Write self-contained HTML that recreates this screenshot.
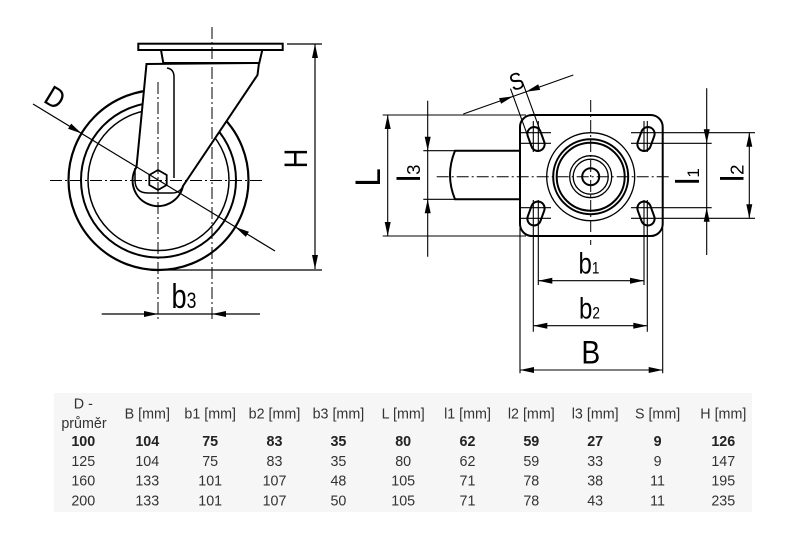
<!DOCTYPE html>
<html><head><meta charset="utf-8"><style>
html,body{margin:0;padding:0;background:#fff;}
svg{display:block;}
.t{font-family:"Liberation Sans",Arial,sans-serif;}
</style></head><body>
<svg width="800" height="550" viewBox="0 0 800 550" xmlns="http://www.w3.org/2000/svg">
<rect width="800" height="550" fill="#fff"/>
<rect x="54" y="393" width="698" height="119" fill="#f6f6f6"/>

<!-- LEFT DRAWING -->
<g fill="none" stroke="#000">
  <circle cx="158.5" cy="180" r="90" stroke-width="2.2"/>
  <circle cx="158.5" cy="180" r="77.5" stroke-width="2"/>
  <circle cx="158.5" cy="180" r="70.5" stroke-width="1.5"/>
  <path d="M146.5,64 L259,63 L257.5,75 L183,186 A25.5,25.5 0 1 1 136.5,167 Z" fill="#fff" stroke-width="2"/>
  <polygon points="161,50 262.3,50 259.3,63 163.3,63" fill="#fff" stroke-width="2"/>
  <rect x="138.3" y="43.7" width="144.4" height="6.3" fill="#fff" stroke-width="2"/>
  <path d="M167,68 Q174,69 174,77 L174,178" stroke-width="1.5"/>
  <path d="M135,168 L135,180 Q135,193 148,193 L172,193 Q180,193 183,186" stroke-width="1.5"/>
  <polygon points="158,170 166.7,175 166.7,185 158,190 149.3,185 149.3,175" stroke-width="1.8"/>
</g>
<g fill="none" stroke="#000" stroke-width="1" stroke-dasharray="12 3 2 3">
  <line x1="158" y1="82" x2="158" y2="320"/>
  <line x1="212" y1="27" x2="212" y2="320"/>
  <line x1="50" y1="180.5" x2="265" y2="180.5"/>
</g>
<g fill="none" stroke="#000" stroke-width="1.2">
  <line x1="33" y1="104" x2="275" y2="251"/>
  <line x1="315" y1="44" x2="315" y2="269"/>
  <line x1="287" y1="44" x2="322" y2="44"/>
  <line x1="158" y1="270" x2="322" y2="270"/>
  <line x1="101.7" y1="314" x2="260" y2="314"/>
</g>
<g fill="#000" stroke="none">
  <polygon points="81.6,133.5 68.08,128.79 71.2,123.67"/>
  <polygon points="235.4,227.1 245.8,236.93 248.92,231.81"/>
  <polygon points="315,44 312,58 318,58"/>
  <polygon points="315,269 312,255 318,255"/>
  <polygon points="158,314 144,311 144,317"/>
  <polygon points="212,314 226,311 226,317"/>
</g>
<g class="t" fill="#000">
  <g transform="translate(55,97.5) rotate(31)"><text x="0" y="10" font-size="29" text-anchor="middle" transform="scale(0.85,1)">D</text></g>
  <g transform="translate(307,158.5) rotate(-90)"><text x="0" y="0" font-size="32.5" text-anchor="middle" transform="scale(0.84,1)">H</text></g>
  <g transform="translate(171.5,308) scale(0.8,1)"><text x="0" y="0" font-size="34">b<tspan font-size="22">3</tspan></text></g>
</g>

<!-- RIGHT DRAWING -->
<g fill="none" stroke="#000">
  <rect x="520" y="115" width="142.7" height="121" rx="12" ry="12" fill="#fff" stroke-width="2"/>
  <path d="M520,150.7 L455,150.7 Q445,175 455,199.3 L520,199.3" stroke-width="2"/>
  <circle cx="590.7" cy="176.7" r="44" stroke-width="1.3"/>
  <circle cx="590.7" cy="176.7" r="37.5" stroke-width="2"/>
  <circle cx="590.7" cy="176.7" r="34" stroke-width="2"/>
  <circle cx="590.7" cy="176.7" r="21" stroke-width="1.3"/>
  <circle cx="590.7" cy="176.7" r="17.5" stroke-width="1.3"/>
  <circle cx="590.7" cy="176.7" r="8.5" stroke-width="2"/>
  <rect x="-6.75" y="-12.25" width="13.5" height="24.5" rx="6.75" stroke-width="2" transform="translate(536,139) rotate(-20)"/>
  <rect x="-6.75" y="-12.25" width="13.5" height="24.5" rx="6.75" stroke-width="2" transform="translate(646,139) rotate(20)"/>
  <rect x="-6.75" y="-12.25" width="13.5" height="24.5" rx="6.75" stroke-width="2" transform="translate(536,213.5) rotate(20)"/>
  <rect x="-6.75" y="-12.25" width="13.5" height="24.5" rx="6.75" stroke-width="2" transform="translate(646,213.5) rotate(-20)"/>
</g>
<g fill="none" stroke="#000" stroke-width="1" stroke-dasharray="12 3 2 3">
  <line x1="590.7" y1="100" x2="590.7" y2="245"/>
  <line x1="436.7" y1="176.7" x2="670" y2="176.7"/>
</g>
<g fill="none" stroke="#000" stroke-width="1.1">
  <!-- slot crosshair horizontal -->
  <line x1="521" y1="132.7" x2="551" y2="132.7"/>
  <line x1="521" y1="143.3" x2="551" y2="143.3"/>
  <line x1="521" y1="207.7" x2="551" y2="207.7"/>
  <line x1="521" y1="218.3" x2="551" y2="218.3"/>
  <line x1="631" y1="132.7" x2="755" y2="132.7"/>
  <line x1="631" y1="143.3" x2="711.7" y2="143.3"/>
  <line x1="631" y1="207.7" x2="711.7" y2="207.7"/>
  <line x1="631" y1="218.3" x2="755" y2="218.3"/>
  <!-- slot crosshair vertical -->
  <line x1="533.3" y1="121" x2="533.3" y2="152"/>
  <line x1="538.3" y1="121" x2="538.3" y2="152"/>
  <line x1="644" y1="121" x2="644" y2="152"/>
  <line x1="647.3" y1="121" x2="647.3" y2="152"/>
  <line x1="533.3" y1="200" x2="533.3" y2="331.7"/>
  <line x1="538.3" y1="200" x2="538.3" y2="285"/>
  <line x1="644" y1="200" x2="644" y2="285"/>
  <line x1="647.3" y1="200" x2="647.3" y2="331.7"/>
  <!-- B ext -->
  <line x1="520" y1="228" x2="520" y2="373.3"/>
  <line x1="662.7" y1="228" x2="662.7" y2="373.3"/>
  <!-- L ext -->
  <line x1="382.7" y1="115" x2="526" y2="115"/>
  <line x1="382.7" y1="236" x2="526" y2="236"/>
  <!-- l3 ext -->
  <line x1="423.3" y1="150.7" x2="455" y2="150.7"/>
  <line x1="423.3" y1="199.3" x2="455" y2="199.3"/>
  <!-- dimension lines -->
  <line x1="387.7" y1="115" x2="387.7" y2="236"/>
  <line x1="427.7" y1="100.7" x2="427.7" y2="256.7"/>
  <line x1="706.7" y1="88.3" x2="706.7" y2="255"/>
  <line x1="749.3" y1="132.7" x2="749.3" y2="218.3"/>
  <line x1="538.3" y1="280.7" x2="644" y2="280.7"/>
  <line x1="533.3" y1="325.7" x2="647.3" y2="325.7"/>
  <line x1="520" y1="370" x2="662.7" y2="370"/>
  <!-- S -->
  <line x1="529.65" y1="141.31" x2="510.5" y2="88.7"/>
  <line x1="542.35" y1="136.69" x2="523.2" y2="84.05"/>
  <line x1="463.3" y1="114" x2="573.3" y2="75"/>
</g>
<g fill="#000" stroke="none">
  <polygon points="387.7,115 384.7,129 390.7,129"/>
  <polygon points="387.7,236 384.7,222 390.7,222"/>
  <polygon points="427.7,150.7 424.7,136.7 430.7,136.7"/>
  <polygon points="427.7,199.3 424.7,213.3 430.7,213.3"/>
  <polygon points="706.7,143.3 703.7,129.3 709.7,129.3"/>
  <polygon points="706.7,207.7 703.7,221.7 709.7,221.7"/>
  <polygon points="749.3,132.7 746.3,146.7 752.3,146.7"/>
  <polygon points="749.3,218.3 746.3,204.3 752.3,204.3"/>
  <polygon points="538.3,280.7 552.3,277.7 552.3,283.7"/>
  <polygon points="644,280.7 630,277.7 630,283.7"/>
  <polygon points="533.3,325.7 547.3,322.7 547.3,328.7"/>
  <polygon points="647.3,325.7 633.3,322.7 633.3,328.7"/>
  <polygon points="520,370 534,367 534,373"/>
  <polygon points="662.7,370 648.7,367 648.7,373"/>
  <polygon points="513.27,96.29 501.07,103.8 499.07,98.14"/>
  <polygon points="526.01,91.78 540.21,89.93 538.21,84.27"/>
</g>
<g class="t" fill="#000">
  <g transform="translate(516.5,81) rotate(-20)"><text x="0" y="8.5" font-size="24" text-anchor="middle" transform="scale(0.85,1)">S</text></g>
  <g transform="translate(380,177.5) rotate(-90)"><text x="0" y="0" font-size="35" text-anchor="middle" transform="scale(0.95,1)">L</text></g>
  <g transform="translate(420,182) rotate(-90)"><text x="0" y="0" font-size="32">l<tspan font-size="18.6">3</tspan></text></g>
  <g transform="translate(699,185) rotate(-90)"><text x="0" y="0" font-size="33">l<tspan font-size="17">1</tspan></text></g>
  <g transform="translate(743.3,182) rotate(-90)"><text x="0" y="0" font-size="32">l<tspan font-size="18.6">2</tspan></text></g>
  <g transform="translate(578.5,273.3) scale(0.8,1)"><text x="0" y="0" font-size="30">b<tspan font-size="17">1</tspan></text></g>
  <g transform="translate(579,318.3) scale(0.8,1)"><text x="0" y="0" font-size="30">b<tspan font-size="17">2</tspan></text></g>
  <g transform="translate(590.8,363.3) scale(0.87,1)"><text x="0" y="0" font-size="32.5" text-anchor="middle">B</text></g>
</g>

<!-- TABLE -->
<g class="t" fill="#333" font-size="14.3" text-anchor="middle">
  <text x="83.3" y="408.7">D -</text>
  <text x="84" y="428">průměr</text>
  <text x="147.3" y="418.7">B [mm]</text>
  <text x="210.2" y="418.7">b1 [mm]</text>
  <text x="274.5" y="418.7">b2 [mm]</text>
  <text x="338.4" y="418.7">b3 [mm]</text>
  <text x="403.2" y="418.7">L [mm]</text>
  <text x="467.5" y="418.7">l1 [mm]</text>
  <text x="531.3" y="418.7">l2 [mm]</text>
  <text x="595.2" y="418.7">l3 [mm]</text>
  <text x="657.6" y="418.7">S [mm]</text>
  <text x="723.3" y="418.7">H [mm]</text>
  <g font-weight="bold" fill="#222">
    <text x="83.3" y="446">100</text><text x="147.3" y="446">104</text><text x="210.2" y="446">75</text><text x="274.5" y="446">83</text><text x="338.4" y="446">35</text><text x="403.2" y="446">80</text><text x="467.5" y="446">62</text><text x="531.3" y="446">59</text><text x="595.2" y="446">27</text><text x="657.6" y="446">9</text><text x="723.3" y="446">126</text>
  </g>
  <text x="83.3" y="466">125</text><text x="147.3" y="466">104</text><text x="210.2" y="466">75</text><text x="274.5" y="466">83</text><text x="338.4" y="466">35</text><text x="403.2" y="466">80</text><text x="467.5" y="466">62</text><text x="531.3" y="466">59</text><text x="595.2" y="466">33</text><text x="657.6" y="466">9</text><text x="723.3" y="466">147</text>
  <text x="83.3" y="485.5">160</text><text x="147.3" y="485.5">133</text><text x="210.2" y="485.5">101</text><text x="274.5" y="485.5">107</text><text x="338.4" y="485.5">48</text><text x="403.2" y="485.5">105</text><text x="467.5" y="485.5">71</text><text x="531.3" y="485.5">78</text><text x="595.2" y="485.5">38</text><text x="657.6" y="485.5">11</text><text x="723.3" y="485.5">195</text>
  <text x="83.3" y="505.5">200</text><text x="147.3" y="505.5">133</text><text x="210.2" y="505.5">101</text><text x="274.5" y="505.5">107</text><text x="338.4" y="505.5">50</text><text x="403.2" y="505.5">105</text><text x="467.5" y="505.5">71</text><text x="531.3" y="505.5">78</text><text x="595.2" y="505.5">43</text><text x="657.6" y="505.5">11</text><text x="723.3" y="505.5">235</text>
</g>
</svg>
</body></html>
